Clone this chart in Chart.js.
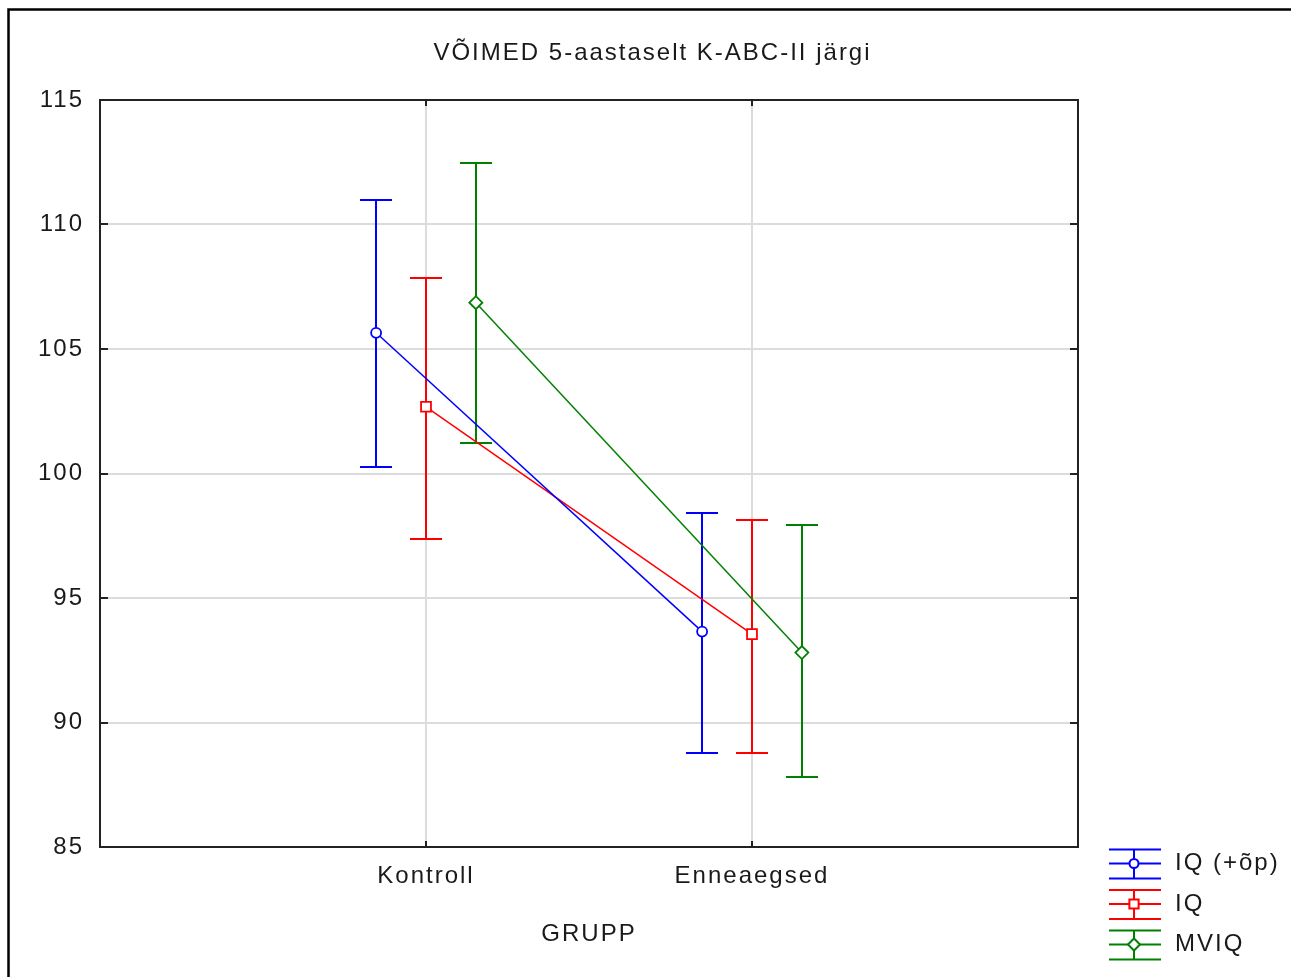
<!DOCTYPE html>
<html>
<head>
<meta charset="utf-8">
<script src="https://cdn.jsdelivr.net/npm/chart.js@4/dist/chart.umd.min.js"></script>
<style>
  html, body { margin: 0; padding: 0; background: #fff; }
  canvas { display: block; background: #fff; }
</style>
</head>
<body>
<canvas id="iqChart" width="1291" height="977"></canvas>
<script>
// groups on the x axis and the y tick values
const groups = ['Kontroll', 'Enneaegsed'];
const yTicks = [85, 90, 95, 100, 105, 110, 115];
const seriesLabels = ['IQ (+õp)', 'IQ', 'MVIQ'];

// means and the ends of the error bars, one value per group
const iqOpMean = [105.65, 93.65];
const iqOpLow = [100.27, 88.76];
const iqOpHigh = [111.0, 98.43];

const iqMean = [102.68, 93.55];
const iqLow = [97.37, 88.76];
const iqHigh = [107.84, 98.13];

const mviqMean = [106.86, 92.81];
const mviqLow = [101.24, 87.80];
const mviqHigh = [112.46, 97.95];

const INK = '#1a1a1a';
const GRID = '#dcdcdc';
const SPACING = '2px';

// the three series sit slightly left / on / right of each group position
function makeSeries(label, mean, low, high, color, style, radius, shift) {
  return {
    label: label,
    data: mean.map((m, i) => ({ x: i + 1 + shift, y: m })),
    errLow: low,
    errHigh: high,
    borderColor: color,
    backgroundColor: '#fff',
    borderWidth: 1.5,
    pointStyle: style,
    pointRadius: radius,
    pointBorderWidth: 1.8,
    pointBackgroundColor: '#fff',
    tension: 0
  };
}

// canvas letter spacing gets lost whenever the canvas is resized
function setSpacing(chart) { chart.ctx.letterSpacing = SPACING; }

const errorBars = {
  id: 'errorBars',
  beforeLayout: setSpacing,
  beforeDraw: setSpacing,
  beforeDatasetsDraw(chart) {
    const { ctx, scales: { x, y } } = chart;
    chart.data.datasets.forEach(ds => {
      ctx.save();
      ctx.strokeStyle = ds.borderColor;
      ctx.lineWidth = 2;
      ds.data.forEach((p, i) => {
        const px = Math.round(x.getPixelForValue(p.x));
        const top = Math.round(y.getPixelForValue(ds.errHigh[i]));
        const bot = Math.round(y.getPixelForValue(ds.errLow[i]));
        ctx.beginPath();
        ctx.moveTo(px, top); ctx.lineTo(px, bot);
        ctx.moveTo(px - 16, top); ctx.lineTo(px + 16, top);
        ctx.moveTo(px - 16, bot); ctx.lineTo(px + 16, bot);
        ctx.stroke();
      });
      ctx.restore();
    });
  },
  afterDraw(chart) {
    const { ctx, chartArea: a, scales: { x, y } } = chart;
    ctx.save();
    // outer frame of the picture
    ctx.strokeStyle = '#000';
    ctx.lineWidth = 2.5;
    ctx.beginPath();
    ctx.moveTo(8.5, chart.height);
    ctx.lineTo(8.5, 9.5);
    ctx.lineTo(chart.width, 9.5);
    ctx.stroke();

    // plot frame and inward ticks
    ctx.strokeStyle = '#222';
    ctx.lineWidth = 2;
    ctx.strokeRect(a.left, a.top, a.right - a.left, a.bottom - a.top);
    ctx.beginPath();
    yTicks.forEach(v => {
      const py = Math.round(y.getPixelForValue(v));
      ctx.moveTo(a.left, py); ctx.lineTo(a.left + 8, py);
      ctx.moveTo(a.right, py); ctx.lineTo(a.right - 8, py);
    });
    groups.forEach((g, i) => {
      const px = Math.round(x.getPixelForValue(i + 1));
      ctx.moveTo(px, a.bottom); ctx.lineTo(px, a.bottom - 6);
      ctx.moveTo(px, a.top); ctx.lineTo(px, a.top + 6);
    });
    ctx.stroke();

    // legend, below-right of the plot
    ctx.letterSpacing = SPACING;
    ctx.font = '24px "Liberation Sans", Arial, sans-serif';
    ctx.textBaseline = 'middle';
    ctx.textAlign = 'left';
    chart.data.datasets.forEach((ds, i) => {
      const cy = a.bottom + 16.5 + i * 40.5;
      const x0 = a.right + 31, x1 = a.right + 83, cx = a.right + 56;
      ctx.strokeStyle = ds.borderColor;
      ctx.lineWidth = 2;
      ctx.beginPath();
      ctx.moveTo(x0, cy - 14); ctx.lineTo(x1, cy - 14);
      ctx.moveTo(x0, cy); ctx.lineTo(x1, cy);
      ctx.moveTo(x0, cy + 15); ctx.lineTo(x1, cy + 15);
      ctx.moveTo(cx, cy - 14); ctx.lineTo(cx, cy + 15);
      ctx.stroke();
      ctx.fillStyle = '#fff';
      Chart.helpers.drawPoint(ctx, {
        pointStyle: ds.pointStyle, radius: ds.pointRadius - 0.5,
        borderWidth: 2, rotation: 0
      }, cx, cy);
      ctx.fillStyle = INK;
      ctx.fillText(ds.label, a.right + 97, cy);
    });
    ctx.restore();
  }
};

Chart.defaults.font.family = '"Liberation Sans", Arial, sans-serif';
Chart.defaults.font.size = 24;
Chart.defaults.color = INK;

new Chart(document.getElementById('iqChart'), {
  type: 'line',
  data: {
    datasets: [
      makeSeries(seriesLabels[0], iqOpMean, iqOpLow, iqOpHigh, '#0000ff', 'circle', 5, -0.153),
      makeSeries(seriesLabels[1], iqMean, iqLow, iqHigh, '#ff0000', 'rect', 7, 0),
      makeSeries(seriesLabels[2], mviqMean, mviqLow, mviqHigh, '#008000', 'rectRot', 6.5, 0.153)
    ]
  },
  options: {
    responsive: false,
    animation: false,
    layout: { padding: { left: 14, right: 0, top: 0, bottom: 0 } },
    plugins: {
      legend: { display: false },
      tooltip: { enabled: false },
      title: {
        display: true,
        text: 'VÕIMED 5-aastaselt K-ABC-II järgi',
        color: INK,
        font: { size: 24, weight: 'normal' },
        padding: { top: 38.6, bottom: 32.6 }
      }
    },
    scales: {
      x: {
        type: 'linear',
        min: 0,
        max: 3,
        afterBuildTicks: s => { s.ticks = groups.map((g, i) => ({ value: i + 1 })); },
        afterFit: s => { s.height = 130; },
        ticks: {
          padding: 15,
          callback: v => groups[v - 1]
        },
        grid: { color: GRID, lineWidth: 2, drawTicks: false },
        border: { display: false },
        title: {
          display: true,
          text: 'GRUPP',
          color: INK,
          font: { size: 24 },
          padding: { top: 0, bottom: 28 }
        }
      },
      y: {
        min: 85,
        max: 115,
        afterBuildTicks: s => { s.ticks = yTicks.map(v => ({ value: v })); },
        afterFit: s => { s.width = 86; },
        ticks: { padding: 16 },
        grid: { color: GRID, lineWidth: 2, drawTicks: false },
        border: { display: false }
      },
      // empty strip on the right that leaves room for the legend
      yRight: {
        position: 'right',
        min: 85,
        max: 115,
        afterFit: s => { s.width = 213; },
        ticks: { display: false },
        grid: { display: false, drawTicks: false },
        border: { display: false }
      }
    }
  },
  plugins: [errorBars]
});
</script>
</body>
</html>
